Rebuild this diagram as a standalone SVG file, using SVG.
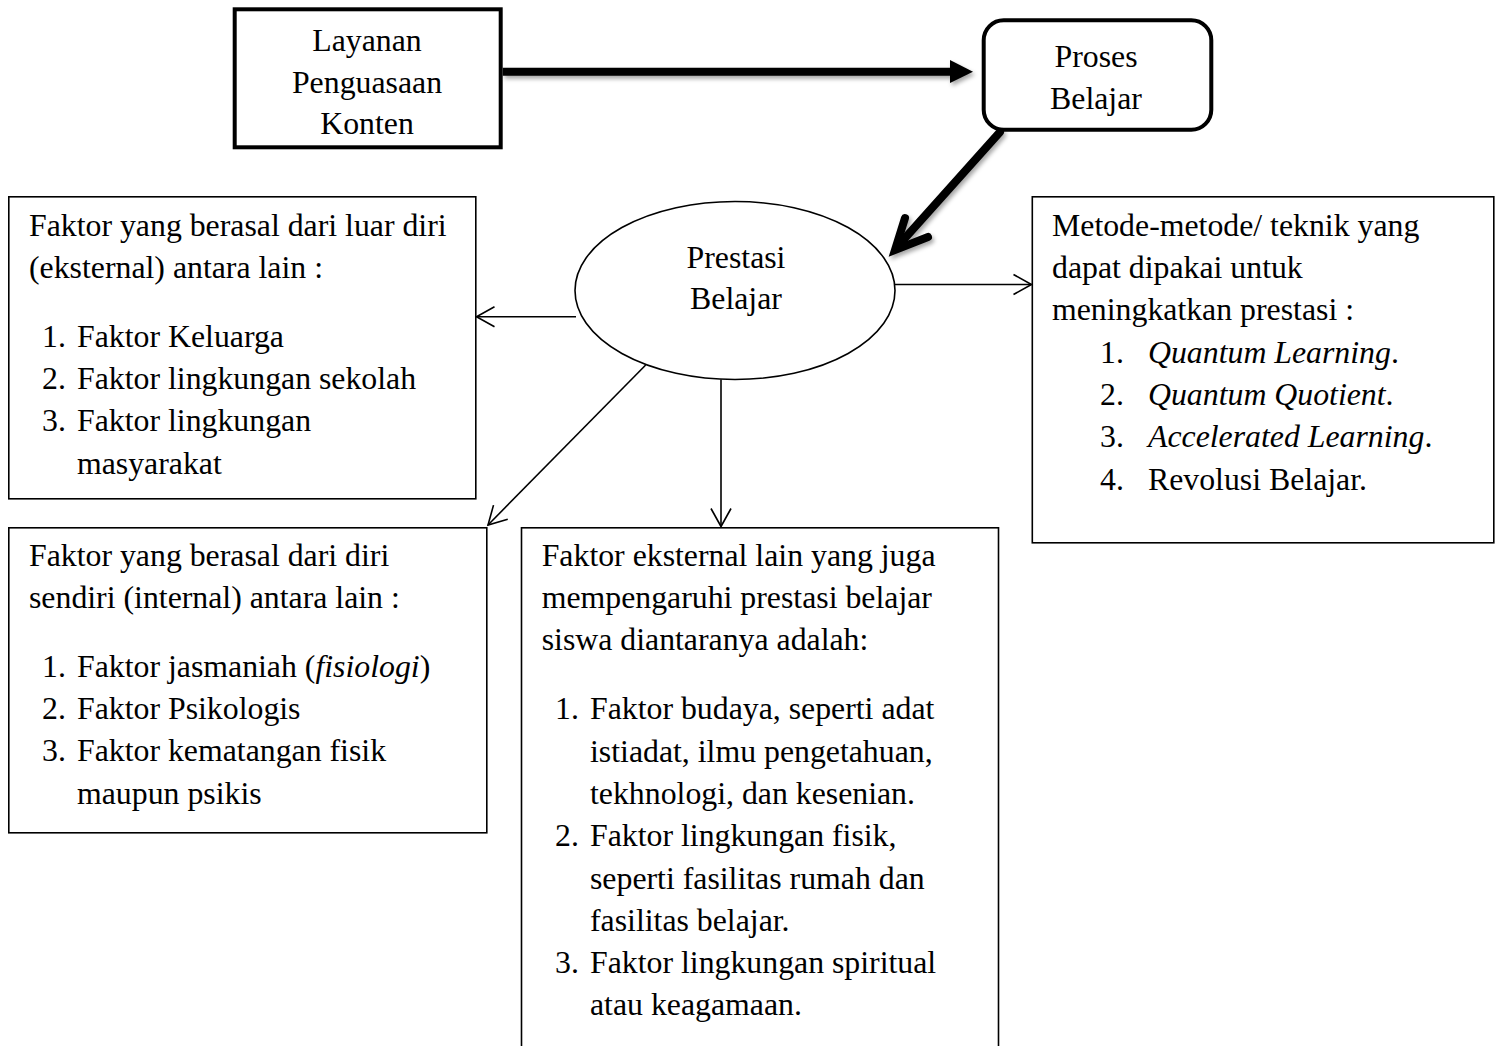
<svg xmlns="http://www.w3.org/2000/svg" width="1499" height="1046" viewBox="0 0 1499 1046">
<style>
text{font-family:"Liberation Serif","Times New Roman",serif;font-size:31.8px;fill:#000}
.c{text-anchor:middle}
.i{font-style:italic}
.box{fill:#fff;stroke:#000;stroke-width:1.6}
.thick{fill:#fff;stroke:#000;stroke-width:4}
.thin{fill:none;stroke:#000;stroke-width:1.6}
</style>
<defs>
<marker id="open" viewBox="-22 -12 26 24" refX="0" refY="0" markerWidth="26" markerHeight="24" orient="auto" markerUnits="userSpaceOnUse">
<path d="M-18,-10 L0,0 L-18,10" fill="none" stroke="#000" stroke-width="1.6"/>
</marker>
<filter id="sh" x="-20%" y="-20%" width="140%" height="140%">
<feDropShadow dx="2" dy="3" stdDeviation="2" flood-color="#000" flood-opacity="0.35"/>
</filter>
</defs>
<rect width="1499" height="1046" fill="#fff"/>

<g id="node-layanan">
<rect class="thick" x="234.7" y="9.3" width="266" height="138"/>
<text class="c" x="367" y="51">Layanan</text>
<text class="c" x="367" y="92.5">Penguasaan</text>
<text class="c" x="367" y="134">Konten</text>
</g>

<g id="node-proses">
<rect class="thick" x="983.7" y="20.3" width="227.6" height="109.4" rx="20" ry="20"/>
<text class="c" x="1096" y="67">Proses</text>
<text class="c" x="1096" y="108.5">Belajar</text>
</g>

<g id="node-prestasi">
<ellipse cx="735" cy="290.5" rx="160" ry="89" fill="#fff" stroke="#000" stroke-width="1.6"/>
<text class="c" x="736" y="267.7">Prestasi</text>
<text class="c" x="736" y="308.5">Belajar</text>
</g>

<g id="node-eksternal">
<rect class="box" x="8.8" y="196.8" width="467" height="302"/>
<text x="29" y="235.7">Faktor yang berasal dari luar diri</text>
<text x="29" y="278">(eksternal) antara lain :</text>
<text x="42" y="346.7">1.</text><text x="77" y="346.7">Faktor Keluarga</text>
<text x="42" y="389">2.</text><text x="77" y="389">Faktor lingkungan sekolah</text>
<text x="42" y="431.3">3.</text><text x="77" y="431.3">Faktor lingkungan</text>
<text x="77" y="473.6">masyarakat</text>
</g>

<g id="node-internal">
<rect class="box" x="8.8" y="527.8" width="478" height="305"/>
<text x="29" y="565.7">Faktor yang berasal dari diri</text>
<text x="29" y="608">sendiri (internal) antara lain :</text>
<text x="42" y="676.7">1.</text><text x="77" y="676.7">Faktor jasmaniah (<tspan class="i">fisiologi</tspan>)</text>
<text x="42" y="719">2.</text><text x="77" y="719">Faktor Psikologis</text>
<text x="42" y="761.3">3.</text><text x="77" y="761.3">Faktor kematangan fisik</text>
<text x="77" y="803.6">maupun psikis</text>
</g>

<g id="node-eksternal-lain">
<rect class="box" x="521.5" y="527.8" width="477" height="540"/>
<text x="541.7" y="565.7">Faktor eksternal lain yang juga</text>
<text x="541.7" y="608">mempengaruhi prestasi belajar</text>
<text x="541.7" y="650.3">siswa diantaranya adalah:</text>
<text x="555" y="719.3">1.</text><text x="590" y="719.3">Faktor budaya, seperti adat</text>
<text x="590" y="761.6">istiadat, ilmu pengetahuan,</text>
<text x="590" y="803.9">tekhnologi, dan kesenian.</text>
<text x="555" y="846.2">2.</text><text x="590" y="846.2">Faktor lingkungan fisik,</text>
<text x="590" y="888.5">seperti fasilitas rumah dan</text>
<text x="590" y="930.8">fasilitas belajar.</text>
<text x="555" y="973.1">3.</text><text x="590" y="973.1">Faktor lingkungan spiritual</text>
<text x="590" y="1015.4">atau keagamaan.</text>
</g>

<g id="node-metode">
<rect class="box" x="1032.3" y="196.8" width="461.5" height="346"/>
<text x="1052" y="235.7">Metode-metode/ teknik yang</text>
<text x="1052" y="278">dapat dipakai untuk</text>
<text x="1052" y="320.3">meningkatkan prestasi :</text>
<text x="1100" y="362.6">1.</text><text x="1148" y="362.6"><tspan class="i">Quantum Learning</tspan>.</text>
<text x="1100" y="404.9">2.</text><text x="1148" y="404.9"><tspan class="i">Quantum Quotient</tspan>.</text>
<text x="1100" y="447.2">3.</text><text x="1148" y="447.2"><tspan class="i">Accelerated Learning</tspan>.</text>
<text x="1100" y="489.5">4.</text><text x="1148" y="489.5">Revolusi Belajar.</text>
</g>

<g id="connectors">
<g filter="url(#sh)">
<line x1="502.7" y1="71.7" x2="952" y2="71.7" stroke="#000" stroke-width="8"/>
<polygon points="950,60 973,71.7 950,83" fill="#000"/>
<line x1="1000" y1="132" x2="897" y2="247" stroke="#000" stroke-width="8" stroke-linecap="round"/>
<path d="M905,218 L895,250 L928,237" fill="none" stroke="#000" stroke-width="8" stroke-linecap="round" stroke-linejoin="miter"/>
</g>
<line class="thin" x1="576" y1="316.7" x2="476.5" y2="316.7" marker-end="url(#open)"/>
<line class="thin" x1="895" y1="284.5" x2="1031.5" y2="284.5" marker-end="url(#open)"/>
<line class="thin" x1="721" y1="379.5" x2="721" y2="526.5" marker-end="url(#open)"/>
<line class="thin" x1="645.7" y1="365" x2="488" y2="525" marker-end="url(#open)"/>
</g>
</svg>
